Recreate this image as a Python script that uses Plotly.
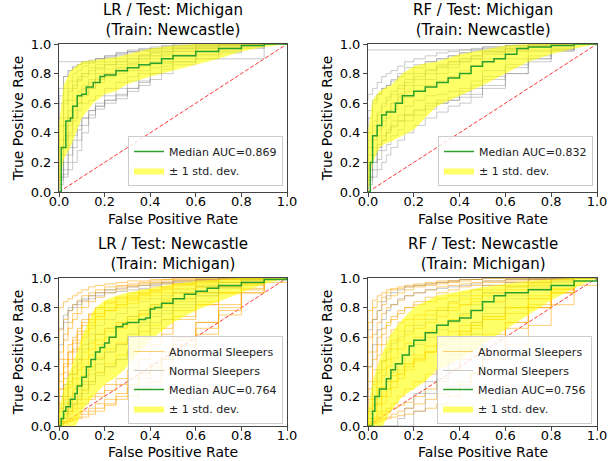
import plotly.graph_objects as go

# ---------------- data ----------------
# shared FPR grid for individual (per-night) ROC curves
G = [0, 0.02, 0.04, 0.06, 0.08, 0.1, 0.13, 0.16, 0.2, 0.25, 0.3, 0.35, 0.4, 0.45, 0.5, 0.6, 0.7, 0.8, 0.9, 1.0]
# shared FPR grid for the +/- 1 std band
B = [0, 0.02, 0.05, 0.08, 0.1, 0.15, 0.2, 0.25, 0.3, 0.4, 0.5, 0.6, 0.7, 0.8, 0.9, 1.0]

titles = ["LR / Test: Michigan<br>(Train: Newcastle)", "RF / Test: Michigan<br>(Train: Newcastle)",
          "LR / Test: Newcastle<br>(Train: Michigan)", "RF / Test: Newcastle<br>(Train: Michigan)"]
aucs = [0.869, 0.832, 0.764, 0.756]
xlabel = "False Positive Rate"
ylabel = "True Positive Rate"
ticks = [0, 0.2, 0.4, 0.6, 0.8, 1.0]

# Panel 1: LR, test Michigan
p1_normal = [
    [.3, .6, .7, .75, .8, .82, .85, .87, .88, .9, .92, .94, .95, .96, .97, .98, .99, 1, 1, 1],
    [.2, .45, .6, .68, .72, .76, .8, .82, .84, .86, .88, .9, .92, .94, .95, .97, .98, .99, 1, 1],
    [.4, .65, .78, .82, .84, .86, .88, .89, .9, .91, .93, .95, .96, .97, .98, .99, 1, 1, 1, 1],
    [.1, .3, .45, .55, .62, .68, .72, .76, .8, .83, .86, .88, .9, .92, .94, .96, .98, .99, 1, 1],
    [.88, .88, .88, .88, .88, .88, .88, .88, .9, .92, .94, .95, .96, .97, .98, .99, 1, 1, 1, 1],
    [.05, .15, .3, .4, .48, .55, .6, .62, .65, .7, .74, .78, .82, .86, .88, .92, .95, .97, .99, 1],
    [.02, .1, .2, .3, .38, .45, .5, .55, .6, .65, .7, .75, .8, .84, .87, .9, .93, .96, .98, 1],
    [0, .05, .1, .15, .2, .28, .4, .5, .56, .6, .63, .68, .72, .76, .8, .86, .9, .94, .97, 1],
    [.05, .1, .12, .2, .3, .35, .45, .52, .58, .62, .66, .7, .74, .8, .85, .88, .9, .9, .9, 1],
    [.15, .35, .5, .62, .7, .75, .78, .8, .83, .86, .88, .9, .92, .94, .95, .97, .98, 1, 1, 1],
    [.25, .5, .62, .7, .75, .78, .8, .84, .86, .88, .9, .92, .93, .95, .96, .98, .99, 1, 1, 1],
    [.1, .25, .35, .45, .55, .6, .66, .7, .74, .78, .8, .82, .85, .88, .9, .93, .96, .98, .99, 1],
    [.02, .08, .15, .25, .35, .42, .5, .55, .58, .62, .65, .7, .75, .8, .83, .88, .92, .95, .98, 1],
    [.5, .7, .78, .82, .85, .86, .87, .88, .9, .92, .94, .96, .97, .98, .99, 1, 1, 1, 1, 1],
    [0, .12, .25, .38, .5, .6, .65, .7, .76, .8, .83, .86, .88, .9, .92, .95, .97, .99, 1, 1],
    [.08, .2, .38, .5, .58, .65, .7, .74, .77, .8, .84, .87, .9, .92, .93, .95, .97, .98, 1, 1],
]
p1_abnormal = []
p1_med_x = [0, .01, .03, .05, .06, .08, .1, .12, .15, .18, .2, .25, .3, .35, .4, .45, .5, .6, .7, .8, .9, 1]
p1_med_y = [0, .3, .48, .5, .58, .65, .66, .71, .74, .78, .79, .82, .84, .86, .87, .9, .92, .95, .97, .99, 1, 1]
p1_up = [.45, .72, .82, .86, .88, .89, .9, .91, .93, .97, .99, 1, 1, 1, 1, 1]
p1_lo = [0, .22, .3, .42, .5, .6, .66, .68, .73, .78, .82, .86, .9, .95, .98, 1]

# Panel 2: RF, test Michigan
p2_normal = [
    [.62, .66, .7, .74, .78, .8, .82, .85, .88, .9, .92, .94, .95, .96, .97, .98, .99, 1, 1, 1],
    [.96, .96, .96, .96, .96, .96, .96, .96, .96, .96, .96, .96, .96, .96, .96, .96, .96, .96, .96, 1],
    [.2, .35, .45, .52, .58, .62, .66, .7, .74, .78, .82, .85, .88, .9, .92, .95, .97, .99, 1, 1],
    [.1, .25, .35, .42, .48, .54, .6, .64, .68, .72, .76, .8, .84, .88, .9, .94, .97, .99, 1, 1],
    [.3, .5, .6, .66, .7, .72, .76, .8, .84, .86, .88, .9, .92, .94, .96, .98, .99, 1, 1, 1],
    [.02, .08, .15, .22, .28, .32, .38, .42, .48, .52, .56, .6, .62, .64, .66, .72, .8, .9, .96, 1],
    [0, .05, .1, .15, .2, .25, .3, .35, .4, .45, .5, .54, .58, .6, .64, .7, .8, .88, .95, 1],
    [.02, .1, .2, .28, .35, .4, .45, .48, .52, .56, .6, .62, .64, .68, .72, .78, .86, .92, .97, 1],
    [.05, .15, .25, .32, .38, .42, .48, .52, .58, .62, .65, .66, .68, .7, .75, .82, .9, .95, .98, 1],
    [.15, .3, .38, .45, .5, .55, .6, .66, .72, .76, .8, .84, .86, .88, .9, .93, .96, .98, 1, 1],
    [.4, .55, .62, .66, .7, .72, .75, .78, .8, .84, .88, .9, .92, .94, .95, .97, .99, 1, 1, 1],
    [0, .1, .2, .3, .35, .4, .44, .48, .52, .55, .58, .6, .62, .66, .7, .76, .84, .9, .96, 1],
    [.25, .4, .48, .54, .6, .64, .68, .72, .76, .8, .83, .86, .88, .9, .92, .95, .98, 1, 1, 1],
    [.1, .2, .3, .38, .44, .5, .56, .6, .64, .68, .72, .75, .78, .82, .85, .9, .95, .98, 1, 1],
]
p2_abnormal = []
p2_med_x = [0, .01, .02, .04, .06, .08, .1, .12, .15, .2, .25, .3, .35, .4, .45, .5, .55, .6, .65, .7, .8, .9, 1]
p2_med_y = [0, .2, .38, .45, .52, .54, .54, .6, .65, .68, .71, .74, .77, .8, .85, .88, .9, .93, .97, .98, .99, 1, 1]
p2_up = [.4, .62, .68, .71, .72, .8, .85, .87, .88, .93, .96, .99, 1, 1, 1, 1]
p2_lo = [0, .2, .3, .33, .34, .38, .42, .5, .58, .65, .72, .8, .88, .93, .97, 1]

# Panel 3: LR, test Newcastle
p3_normal = [
    [.65, .66, .75, .8, .82, .84, .86, .88, .9, .92, .93, .94, .95, .96, .97, .98, .99, 1, 1, 1],
    [.3, .55, .7, .78, .8, .82, .85, .86, .88, .9, .91, .92, .93, .95, .96, .97, .98, .99, 1, 1],
    [.05, .1, .15, .2, .22, .25, .3, .35, .42, .5, .55, .62, .7, .76, .8, .86, .9, .94, .97, 1],
    [.02, .05, .1, .15, .18, .22, .28, .38, .45, .5, .55, .6, .68, .74, .78, .84, .9, .94, .98, 1],
    [0, .05, .08, .12, .15, .2, .25, .3, .36, .4, .45, .5, .6, .7, .76, .82, .88, .93, .97, 1],
    [.05, .12, .2, .3, .35, .45, .55, .62, .68, .72, .76, .8, .84, .86, .88, .92, .95, .97, .99, 1],
    [.1, .2, .28, .35, .4, .45, .52, .58, .62, .66, .7, .74, .78, .82, .85, .9, .94, .97, .99, 1],
    [0, .02, .05, .1, .15, .18, .22, .28, .34, .4, .45, .52, .6, .66, .72, .8, .88, .94, .98, 1],
]
p3_abnormal = [
    [.55, .8, .84, .86, .88, .9, .92, .94, .95, .96, .97, .98, .98, .99, .99, 1, 1, 1, 1, 1],
    [.3, .5, .62, .7, .76, .8, .84, .88, .9, .92, .94, .95, .96, .97, .98, .99, 1, 1, 1, 1],
    [.1, .25, .4, .5, .58, .64, .7, .75, .8, .84, .87, .9, .92, .94, .96, .98, .99, 1, 1, 1],
    [.05, .15, .25, .35, .45, .52, .6, .66, .72, .78, .82, .85, .88, .9, .92, .95, .97, .99, 1, 1],
    [0, .05, .1, .18, .25, .32, .4, .48, .55, .6, .66, .7, .75, .8, .84, .9, .94, .97, .99, 1],
    [.02, .05, .08, .1, .12, .15, .18, .2, .22, .28, .32, .38, .45, .55, .62, .72, .82, .9, .96, 1],
    [0, .02, .03, .04, .05, .06, .08, .1, .12, .15, .18, .2, .25, .3, .38, .5, .62, .75, .9, 1],
    [0, 0, .02, .04, .06, .08, .1, .12, .15, .18, .22, .28, .35, .42, .5, .6, .7, .8, .92, 1],
    [.15, .3, .42, .5, .56, .62, .68, .72, .76, .8, .84, .87, .9, .92, .94, .96, .98, .99, 1, 1],
    [.2, .35, .45, .55, .6, .66, .72, .76, .8, .83, .86, .88, .9, .92, .94, .96, .98, .99, 1, 1],
    [.05, .12, .2, .28, .35, .42, .5, .56, .62, .66, .7, .74, .78, .82, .86, .9, .94, .97, .99, 1],
    [0, .03, .06, .1, .14, .18, .24, .3, .36, .42, .48, .52, .56, .6, .66, .74, .82, .9, .96, 1],
    [.45, .65, .72, .78, .82, .85, .88, .9, .92, .94, .95, .96, .97, .98, .99, 1, 1, 1, 1, 1],
    [0, .02, .05, .08, .1, .12, .15, .18, .2, .24, .28, .32, .36, .4, .45, .55, .66, .78, .9, 1],
    [.08, .2, .32, .42, .5, .56, .62, .68, .74, .78, .82, .86, .89, .91, .93, .96, .98, .99, 1, 1],
    [.02, .1, .18, .26, .32, .38, .45, .52, .58, .64, .68, .72, .76, .8, .82, .86, .9, .94, .98, 1],
    [0, .01, .02, .03, .04, .05, .06, .08, .1, .14, .2, .26, .32, .38, .45, .58, .7, .82, .93, .97],
    [.12, .25, .36, .45, .52, .58, .64, .7, .74, .78, .8, .83, .86, .88, .9, .93, .96, .98, .99, 1],
    [.25, .45, .58, .66, .72, .76, .8, .84, .87, .9, .92, .94, .95, .96, .97, .98, .99, 1, 1, 1],
    [0, .04, .1, .16, .22, .28, .34, .4, .46, .52, .56, .6, .64, .68, .72, .78, .84, .9, .95, 1],
]
p3_med_x = [0, .01, .02, .03, .05, .07, .08, .1, .12, .14, .16, .18, .2, .22, .25, .28, .3, .35, .38, .4, .42, .45, .5, .55, .6, .65, .7, .8, .9, 1]
p3_med_y = [0, .05, .1, .13, .18, .22, .27, .33, .4, .45, .5, .53, .56, .6, .67, .69, .7, .72, .73, .79, .8, .83, .86, .89, .91, .93, .95, .97, .99, 1]
p3_up = [.1, .25, .38, .5, .6, .78, .85, .88, .9, .93, .96, .98, .99, 1, 1, 1]
p3_lo = [0, -.1, -.05, .02, .1, .2, .28, .33, .4, .58, .7, .78, .84, .9, .96, 1]

# Panel 4: RF, test Newcastle
p4_normal = [
    [.6, .65, .72, .78, .84, .88, .9, .92, .94, .95, .96, .97, .98, .99, .99, 1, 1, 1, 1, 1],
    [.2, .4, .55, .65, .72, .78, .82, .86, .88, .9, .92, .93, .94, .95, .96, .98, .99, 1, 1, 1],
    [0, 0, 0, 0, 0, 0, 0, .05, .12, .22, .3, .38, .48, .6, .7, .8, .88, .94, .98, 1],
    [0, 0, 0, 0, 0, 0, 0, 0, 0, .1, .22, .32, .42, .52, .62, .76, .86, .93, .97, 1],
    [.1, .2, .3, .38, .44, .5, .56, .6, .64, .68, .72, .78, .84, .88, .92, .95, .97, .99, 1, 1],
    [.05, .1, .15, .2, .25, .3, .36, .42, .48, .55, .6, .65, .7, .76, .82, .9, .94, .97, .99, 1],
]
p4_abnormal = [
    [.65, .78, .85, .88, .9, .92, .93, .94, .95, .96, .97, .98, .98, .99, .99, 1, 1, 1, 1, 1],
    [.4, .6, .72, .78, .82, .86, .88, .9, .92, .94, .95, .96, .97, .98, .99, 1, 1, 1, 1, 1],
    [.15, .3, .45, .55, .62, .68, .72, .76, .8, .84, .87, .9, .92, .94, .95, .97, .98, .99, 1, 1],
    [.05, .12, .2, .3, .38, .45, .52, .58, .62, .66, .7, .74, .78, .82, .86, .9, .94, .97, .99, 1],
    [0, .02, .05, .08, .1, .12, .15, .2, .25, .3, .35, .4, .45, .5, .55, .62, .7, .8, .9, 1],
    [0, 0, .02, .04, .05, .06, .08, .1, .12, .15, .18, .22, .25, .3, .35, .45, .55, .68, .82, .95],
    [.02, .05, .1, .15, .2, .25, .3, .35, .4, .45, .5, .55, .58, .62, .66, .72, .8, .88, .95, 1],
    [.1, .25, .38, .48, .55, .6, .65, .7, .72, .75, .78, .8, .83, .86, .88, .92, .95, .98, 1, 1],
    [.2, .4, .5, .6, .66, .7, .74, .78, .8, .82, .84, .86, .88, .9, .92, .95, .97, .99, 1, 1],
    [0, .05, .1, .15, .2, .25, .3, .35, .42, .48, .54, .6, .64, .68, .7, .72, .76, .82, .9, 1],
    [0, .02, .04, .06, .08, .1, .12, .14, .16, .2, .25, .3, .38, .45, .52, .6, .7, .8, .9, 1],
    [.3, .5, .62, .7, .76, .8, .82, .85, .88, .9, .92, .94, .95, .96, .97, .98, .99, 1, 1, 1],
    [.05, .1, .18, .26, .34, .4, .46, .52, .56, .6, .64, .68, .72, .75, .78, .84, .9, .95, .98, 1],
    [0, .03, .06, .1, .15, .2, .26, .32, .38, .44, .5, .55, .6, .64, .68, .74, .8, .86, .93, 1],
    [.08, .18, .28, .36, .44, .52, .58, .64, .68, .72, .75, .78, .8, .82, .84, .88, .92, .96, .99, 1],
    [0, .01, .02, .03, .04, .05, .06, .07, .08, .1, .12, .15, .2, .28, .36, .5, .66, .8, .92, 1],
    [.5, .7, .8, .84, .87, .9, .92, .93, .94, .95, .96, .97, .98, .99, .99, 1, 1, 1, 1, 1],
    [.02, .08, .14, .2, .26, .3, .34, .38, .42, .46, .5, .56, .6, .64, .68, .74, .8, .86, .92, 1],
]
p4_med_x = [0, .02, .03, .05, .08, .1, .12, .15, .18, .2, .25, .3, .35, .4, .45, .5, .55, .6, .7, .8, .9, 1]
p4_med_y = [0, .1, .2, .25, .32, .38, .42, .48, .54, .58, .63, .68, .71, .73, .78, .84, .88, .9, .92, .95, .98, 1]
p4_up = [.1, .3, .45, .55, .62, .72, .8, .84, .88, .91, .94, .96, .98, .99, 1, 1]
p4_lo = [0, -.1, -.05, .05, .1, .2, .25, .3, .38, .45, .55, .65, .75, .85, .93, 1]

panels = [
    (p1_normal, p1_abnormal, p1_med_x, p1_med_y, p1_up, p1_lo),
    (p2_normal, p2_abnormal, p2_med_x, p2_med_y, p2_up, p2_lo),
    (p3_normal, p3_abnormal, p3_med_x, p3_med_y, p3_up, p3_lo),
    (p4_normal, p4_abnormal, p4_med_x, p4_med_y, p4_up, p4_lo),
]

# ---------------- layout geometry (pixels -> paper) ----------------
W, H = 611, 461
px_x = [(59, 287), (368, 597), (59, 287), (368, 597)]
px_y = [(44, 192), (44, 192), (278, 426), (278, 426)]
xlabel_py = [219, 219, 452, 452]
legend_px = [(283, 186), (593, 186), (283, 424), (592, 424)]

FONT = "DejaVu Sans"
GRAY = "rgba(128,128,128,0.42)"
ORANGE = "rgba(255,165,0,0.55)"
YELLOW = "rgba(255,255,0,0.6)"
GREEN = "#2ca02c"
FRAME = "#444444"

fig = go.Figure()
layout = {}
annotations = []
for i, (normal, abnormal, mx, my, up, lo) in enumerate(panels):
    k = "" if i == 0 else str(i + 1)
    xa, ya = "x" + k, "y" + k
    leg = "legend" + k
    has_groups = len(abnormal) > 0
    # chance diagonal
    fig.add_trace(go.Scatter(x=[0, 1], y=[0, 1], mode="lines", xaxis=xa, yaxis=ya,
                             line=dict(color="rgba(255,0,0,0.8)", width=1, dash="4px,2px"),
                             showlegend=False, hoverinfo="skip"))
    for j, c in enumerate(abnormal):
        fig.add_trace(go.Scatter(x=G, y=c, mode="lines", line_shape="vh", xaxis=xa, yaxis=ya,
                                 line=dict(color=ORANGE, width=1), name="Abnormal Sleepers",
                                 legend=leg, showlegend=(j == 0), legendrank=1))
    for j, c in enumerate(normal):
        fig.add_trace(go.Scatter(x=G, y=c, mode="lines", line_shape="vh", xaxis=xa, yaxis=ya,
                                 line=dict(color=GRAY, width=1), name="Normal Sleepers",
                                 legend=leg, showlegend=(has_groups and j == 0), legendrank=2))
    fig.add_trace(go.Scatter(x=B + B[::-1], y=up + lo[::-1], mode="lines", fill="toself",
                             fillcolor=YELLOW, line=dict(width=0, color=YELLOW), xaxis=xa, yaxis=ya,
                             name="± 1 std. dev.", legend=leg, legendrank=4))
    fig.add_trace(go.Scatter(x=mx, y=my, mode="lines", line_shape="hv", xaxis=xa, yaxis=ya,
                             line=dict(color=GREEN, width=1.5),
                             name=f"Median AUC={aucs[i]:.3f}", legend=leg, legendrank=3))

    x0, x1 = px_x[i]
    y0, y1 = px_y[i]
    axis_common = dict(range=[0, 1], showgrid=False, zeroline=False, showline=True, mirror=True,
                       linecolor=FRAME, linewidth=1, ticks="outside", ticklen=4, tickcolor=FRAME,
                       tickvals=ticks, tickformat=".1f", automargin=False,
                       tickfont=dict(family=FONT, size=13, color="black"))
    layout["xaxis" + k] = dict(axis_common, domain=[x0 / W, x1 / W], anchor=ya,
                               ticklabelstandoff=-7)
    layout["yaxis" + k] = dict(axis_common, domain=[1 - y1 / H, 1 - y0 / H], anchor=xa,
                               title=dict(text=ylabel, standoff=3,
                                          font=dict(family=FONT, size=14, color="black")))
    lx, ly = legend_px[i]
    layout[leg] = dict(x=lx / W, y=1 - ly / H, xanchor="right", yanchor="bottom",
                       bgcolor="rgba(255,255,255,0.8)", bordercolor="#cccccc", borderwidth=1,
                       font=dict(family=FONT, size=11, color="#222"), traceorder="normal",
                       tracegroupgap=0, itemwidth=30)
    # subplot title
    annotations.append(dict(text=titles[i], x=(x0 + x1) / 2 / W, y=1 - (y0 - 3) / H,
                            xref="paper", yref="paper", xanchor="center", yanchor="bottom",
                            showarrow=False, font=dict(family=FONT, size=15, color="black")))
    # x-axis label
    annotations.append(dict(text=xlabel, x=(x0 + x1) / 2 / W, y=1 - xlabel_py[i] / H,
                            xref="paper", yref="paper", xanchor="center", yanchor="middle",
                            showarrow=False, font=dict(family=FONT, size=14, color="black")))

fig.update_layout(width=W, height=H, margin=dict(l=0, r=0, t=0, b=0, autoexpand=False),
                  paper_bgcolor="white", plot_bgcolor="white", annotations=annotations,
                  font=dict(family=FONT), **layout)
fig.write_html("out.html")
